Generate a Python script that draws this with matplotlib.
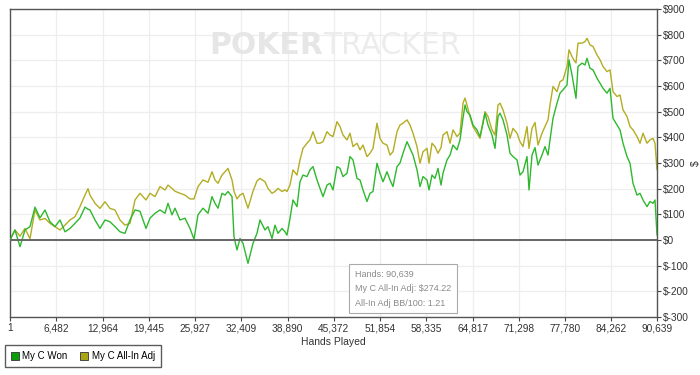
import matplotlib
matplotlib.use('Agg')
import matplotlib.pyplot as plt
from matplotlib.patches import Patch

# ---------------------------------------------------------------------------
# data
# ---------------------------------------------------------------------------
hands = [1, 700, 1401, 2101, 2802, 3502, 4203, 4903, 5604, 6304, 7005, 7705,
         8405, 9106, 9806, 10507, 10927, 11207, 11908, 12608, 13309, 14009,
         14709, 15410, 16110, 16811, 17511, 18212, 19052, 19613, 20313, 21014,
         21714, 22134, 22695, 23115, 23815, 24516, 25216, 25777, 26337, 27037,
         27738, 28298, 28718, 29139, 29699, 30119, 30540, 31100, 31380, 31800,
         32221, 32641, 33341, 34042, 34602, 35023, 35723, 36143, 36704, 37124,
         37544, 38104, 38525, 38805, 39225, 39645, 40206, 40626, 41046, 41607,
         42027, 42447, 43008, 43428, 43848, 44409, 44829, 45249, 45810, 46230,
         46650, 47211, 47631, 48051, 48612, 49032, 49452, 50013, 50433, 50853,
         51414, 51834, 52254, 52815, 53235, 53655, 54216, 54636, 55056, 55617,
         56037, 56457, 57018, 57438, 57858, 58419, 58699, 59119, 59540, 59960,
         60380, 60660, 61221, 61641, 62061, 62622, 63042, 63462, 63742, 64023,
         64443, 64863, 65424, 65844, 66264, 66544, 66965, 67525, 67945, 68365,
         68646, 69066, 69626, 70046, 70467, 71027, 71447, 71867, 72428, 72708,
         73128, 73548, 73969, 74529, 74949, 75369, 75650, 76070, 76630, 77051,
         77471, 78031, 78312, 78732, 79012, 79292, 79573, 80133, 80553, 80834,
         81254, 81674, 82235, 82655, 83075, 83636, 84056, 84476, 85037, 85457,
         85877, 86438, 86858, 87278, 87839, 88259, 88679, 89240, 89660, 90080,
         90360, 90639]

won = [0, 39, -26, 39, 52, 128, 86, 117, 71, 52, 78, 32,
       45, 65, 86, 128, 120, 117, 78, 45, 78, 71,
       52, 32, 26, 78, 117, 112, 45, 85, 104, 117,
       104, 143, 98, 124, 78, 85, 45, 3, 98, 124,
       104, 169, 143, 124, 182, 175, 189, 169, 13, -39,
       6, -13, -91, -13, 26, 78, 39, 52, 6, 58,
       26, 45, 32, 19, 84, 156, 130, 227, 253, 247,
       273, 286, 234, 201, 169, 214, 221, 195, 286, 279,
       247, 260, 325, 312, 240, 234, 195, 150, 182, 189,
       299, 260, 227, 266, 234, 208, 286, 300, 338, 383,
       357, 331, 273, 208, 247, 234, 195, 253, 240, 279,
       214, 260, 312, 331, 370, 351, 390, 475, 526, 500,
       487, 448, 429, 403, 455, 494, 448, 409, 357, 481,
       494, 468, 409, 338, 325, 312, 253, 266, 325, 195,
       331, 360, 292, 331, 364, 331, 390, 474, 533, 572,
       585, 604, 702, 643, 598, 552, 676, 689, 682, 708,
       669, 663, 630, 611, 591, 572, 591, 474, 448, 429,
       377, 325, 299, 221, 175, 182, 156, 130, 150, 143,
       156, 20]

allin = [0, 39, 15, 45, 5, 117, 78, 84, 65, 52, 39, 58,
         78, 91, 130, 175, 200, 175, 143, 123, 149, 123,
         117, 78, 58, 65, 156, 182, 156, 182, 169, 208,
         195, 214, 201, 190, 182, 175, 160, 160, 208, 234,
         225, 266, 234, 221, 253, 266, 279, 234, 190, 160,
         175, 182, 124, 190, 230, 240, 227, 201, 182, 189,
         201, 189, 195, 189, 214, 273, 253, 312, 357, 377,
         390, 422, 377, 377, 383, 422, 409, 403, 461, 442,
         409, 390, 416, 364, 377, 351, 370, 325, 338, 357,
         455, 396, 377, 370, 331, 344, 422, 448, 455, 468,
         448, 416, 364, 299, 344, 357, 299, 377, 364, 338,
         360, 409, 422, 377, 429, 403, 416, 533, 553, 526,
         481, 442, 416, 396, 461, 500, 481, 429, 409, 526,
         533, 507, 455, 396, 435, 416, 383, 364, 442, 357,
         435, 458, 370, 416, 442, 468, 526, 598, 578, 617,
         624, 676, 741, 715, 700, 690, 767, 767, 773, 786,
         760, 754, 721, 702, 676, 656, 663, 578, 559, 565,
         507, 481, 442, 429, 403, 377, 416, 377, 390, 396,
         377, 274]

x_ticks = [1, 6482, 12964, 19445, 25927, 32409, 38890, 45372, 51854,
           58335, 64817, 71298, 77780, 84262, 90639]
y_ticks = list(range(-300, 901, 100))

tooltip_lines = ["Hands: 90,639", "My C All-In Adj: $274.22",
                 "All-In Adj BB/100: 1.21"]

GREEN = '#2eb82e'
OLIVE = '#b3ad22'

# ---------------------------------------------------------------------------
# plot
# ---------------------------------------------------------------------------
plt.rcParams['font.family'] = ['Liberation Sans', 'DejaVu Sans']

fig = plt.figure(figsize=(7, 3.75), dpi=100)
ax = fig.add_axes([10/700, 1 - 317/375, 647/700, 308/375])

ax.plot(hands, won, color=GREEN, lw=1.0, zorder=3)
ax.plot(hands, allin, color=OLIVE, lw=1.0, zorder=2)
ax.axhline(0, color='#666666', lw=1.4, zorder=4)

ax.set_xlim(1, 90639)
ax.set_ylim(-300, 900)
ax.set_xticks(x_ticks)
ax.set_xticklabels([f"{t:,}" for t in x_ticks], fontsize=7.3, color='#333333')
ax.set_yticks(y_ticks)
ax.set_yticklabels([f"${t}" for t in y_ticks], fontsize=7.3, color='#333333')
ax.yaxis.tick_right()
ax.yaxis.set_label_position('right')
ax.set_ylabel('$', fontsize=7.5, color='#333333')
ax.yaxis.set_label_coords(1.053, 0.5)
ax.set_xlabel('Hands Played', fontsize=7.5, color='#333333', labelpad=3)
ax.tick_params(length=3, width=0.8, color='#444444', pad=1.5)
ax.grid(color='#eeeeee', lw=0.9, zorder=0)
ax.set_axisbelow(True)
for s in ax.spines.values():
    s.set_color('#555555')
    s.set_linewidth(1.0)

# watermark
ax.text(0.484, 0.883, 'POKER', transform=ax.transAxes, ha='right', va='center',
        fontsize=21.5, fontweight='bold', color='#e6e6e6',
        family='DejaVu Sans', zorder=1)
ax.text(0.484, 0.883, 'TRACKER', transform=ax.transAxes, ha='left', va='center',
        fontsize=21.5, color='#ececec',
        family='DejaVu Sans', zorder=1)

# tooltip box
ax.text(0.533, 0.03, '\n'.join(tooltip_lines), transform=ax.transAxes,
        ha='left', va='bottom', fontsize=6.5, color='#8a8a8a', linespacing=1.8,
        bbox=dict(boxstyle='square,pad=0.6', fc='white', ec='#aaaaaa', lw=0.8),
        zorder=6)

# legend
handles = [Patch(fc='#0c9c0c', ec='#333333', lw=0.6, label='My C Won'),
           Patch(fc='#aaa514', ec='#333333', lw=0.6, label='My C All-In Adj')]
leg = fig.legend(handles=handles, loc='lower left', bbox_to_anchor=(5/700, 8/375),
                 ncol=2, fontsize=7, frameon=True, fancybox=False,
                 handlelength=0.8, handleheight=0.8, handletextpad=0.4,
                 columnspacing=1.3, borderpad=0.6, borderaxespad=0)
leg.get_frame().set_edgecolor('#333333')
leg.get_frame().set_linewidth(1.0)

plt.savefig('out.png', dpi=100)
